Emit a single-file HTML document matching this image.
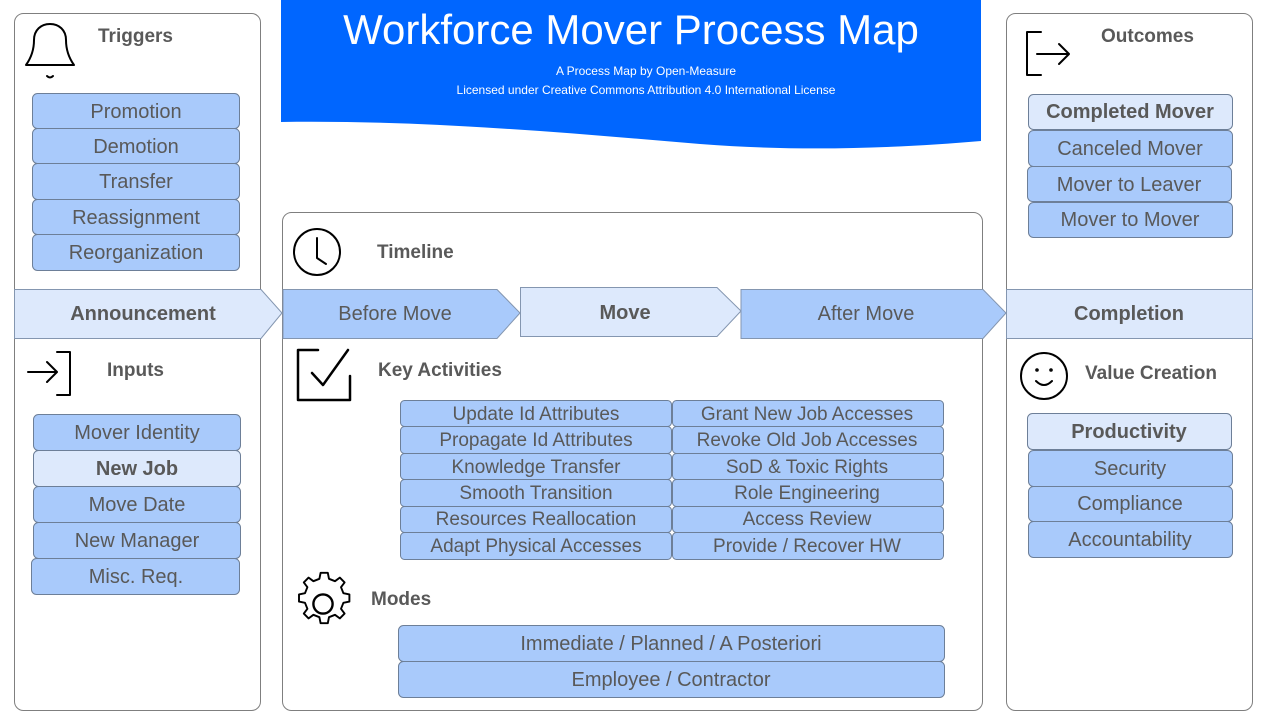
<!DOCTYPE html>
<html><head><meta charset="utf-8"><style>
body{margin:0;width:1280px;height:720px;background:#fff;overflow:hidden;font-family:"Liberation Sans",sans-serif}
svg text{font-family:"Liberation Sans",sans-serif}
</style></head><body>
<svg width="1280" height="720" viewBox="0 0 1280 720" xmlns="http://www.w3.org/2000/svg">
<path d="M281 0 H981 V141 C900 148 800 152 700 144 C560 132 420 120 281 122 Z" fill="#0066ff"/>
<text x="631" y="44" text-anchor="middle" fill="#fff" font-size="42">Workforce Mover Process Map</text>
<text x="646" y="75" text-anchor="middle" fill="#fff" font-size="12">A Process Map by Open-Measure</text>
<text x="646" y="94" text-anchor="middle" fill="#fff" font-size="12">Licensed under Creative Commons Attribution 4.0 International License</text>

<g fill="#fff" stroke="#7f7f7f" stroke-width="1">
<rect x="14.5" y="13.5" width="246" height="697" rx="9"/>
<rect x="282.5" y="212.5" width="700" height="498" rx="9"/>
<rect x="1006.5" y="13.5" width="246" height="697" rx="9"/>
</g>

<g stroke="#8496b0" stroke-width="1">
<path d="M14.5 289.5 H261 L282 313 L261 338.5 H14.5 Z" fill="#dde9fc"/>
<path d="M283 289.5 H497 L520 313 L497 338.5 H283 Z" fill="#a9cafb"/>
<path d="M520.5 287.5 H717 L741 311 L717 336.5 H520.5 Z" fill="#dde9fc"/>
<path d="M741 289.5 H983 L1006 313 L983 338.5 H741 Z" fill="#a9cafb"/>
<rect x="1006.5" y="289.5" width="246" height="49" fill="#dde9fc"/>
</g>
<g font-size="20" text-anchor="middle" fill="#595959">
<text x="143" y="320" font-weight="bold">Announcement</text>
<text x="395" y="320">Before Move</text>
<text x="625" y="319" font-weight="bold">Move</text>
<text x="866" y="320">After Move</text>
<text x="1129" y="320" font-weight="bold">Completion</text>
</g>

<g font-size="19" font-weight="bold" fill="#595959">
<text x="98" y="42">Triggers</text>
<text x="107" y="376">Inputs</text>
<text x="377" y="258">Timeline</text>
<text x="378" y="376">Key Activities</text>
<text x="371" y="605">Modes</text>
<text x="1101" y="42">Outcomes</text>
<text x="1085" y="379">Value Creation</text>
</g>

<g fill="none" stroke="#000" stroke-width="2" stroke-linecap="round" stroke-linejoin="round">
<path d="M26 65 C31 58 34 50 34 40 C34 30 41 24 50 24 C59 24 66 30 66 40 C66 50 69 58 74 65 Z"/>
<path d="M47 76 Q50 79 53 76"/>
<circle cx="317" cy="252" r="23"/>
<path d="M317 238 V258 L326 264"/>
<path d="M318 350 H298 V400 H350 V376 M312 373 L323 385 L348 350" stroke-width="2.5"/>
<path d="M1041 32 H1027 V75 H1041 M1037 54 H1069 M1059 44 L1069 54 L1059 64"/>
<path d="M57 352 H70 V395 H57 M28 372 H57 M47 362 L57 372 L47 382"/>
<circle cx="1044" cy="376" r="23"/>
<circle cx="1037" cy="370" r="0.8"/><circle cx="1051" cy="370" r="0.8"/>
<path d="M1036 381 Q1044 389 1052 381"/>
<g transform="translate(323 604) scale(1.2) translate(-323 -604)">
<circle cx="323" cy="604" r="8"/>
<path d="M323 578 l4 0 l1 5 l5 2 l4 -3 l4 4 l-3 4 l2 5 l5 1 v6 l-5 1 l-2 5 l3 4 l-4 4 l-4 -3 l-5 2 l-1 5 h-6 l-1 -5 l-5 -2 l-4 3 l-4 -4 l3 -4 l-2 -5 l-5 -1 v-6 l5 -1 l2 -5 l-3 -4 l4 -4 l4 3 l5 -2 l1 -5 z" stroke-width="1.6"/>
</g>
</g>

<g stroke="#6d7f98" stroke-width="1">
<g fill="#a9cafb">
<rect x="32.5" y="93.5" width="207" height="35" rx="5"/>
<rect x="32.5" y="128.5" width="207" height="35" rx="5"/>
<rect x="32.5" y="163.5" width="207" height="36" rx="5"/>
<rect x="32.5" y="199.5" width="207" height="35" rx="5"/>
<rect x="32.5" y="234.5" width="207" height="36" rx="5"/>
<rect x="33.5" y="414.5" width="207" height="36" rx="5"/>
<rect x="33.5" y="486.5" width="207" height="36" rx="5"/>
<rect x="33.5" y="522.5" width="207" height="36" rx="5"/>
<rect x="31.5" y="558.5" width="208" height="36" rx="5"/>
<rect x="1028.5" y="130.5" width="204" height="36" rx="5"/>
<rect x="1027.5" y="166.5" width="204" height="35" rx="5"/>
<rect x="1028.5" y="202.5" width="204" height="35" rx="5"/>
<rect x="1028.5" y="450.5" width="204" height="36" rx="5"/>
<rect x="1028.5" y="486.5" width="204" height="35" rx="5"/>
<rect x="1028.5" y="521.5" width="204" height="36" rx="5"/>
<rect x="400.5" y="400.5" width="271" height="26" rx="4"/>
<rect x="400.5" y="426.5" width="271" height="27" rx="4"/>
<rect x="400.5" y="453.5" width="271" height="26" rx="4"/>
<rect x="400.5" y="479.5" width="271" height="27" rx="4"/>
<rect x="400.5" y="506.5" width="271" height="26" rx="4"/>
<rect x="400.5" y="532.5" width="271" height="27" rx="4"/>
<rect x="672.5" y="400.5" width="271" height="26" rx="4"/>
<rect x="672.5" y="426.5" width="271" height="27" rx="4"/>
<rect x="672.5" y="453.5" width="271" height="26" rx="4"/>
<rect x="672.5" y="479.5" width="271" height="27" rx="4"/>
<rect x="672.5" y="506.5" width="271" height="26" rx="4"/>
<rect x="672.5" y="532.5" width="271" height="27" rx="4"/>
<rect x="398.5" y="625.5" width="546" height="36" rx="5"/>
<rect x="398.5" y="661.5" width="546" height="36" rx="5"/>
</g>
<g fill="#dde9fc">
<rect x="33.5" y="450.5" width="207" height="36" rx="5"/>
<rect x="1028.5" y="94.5" width="204" height="35" rx="5"/>
<rect x="1027.5" y="413.5" width="204" height="36" rx="5"/>
</g>
</g>

<g font-size="20" text-anchor="middle" fill="#595959">
<text x="136" y="118">Promotion</text>
<text x="136" y="153">Demotion</text>
<text x="136" y="188">Transfer</text>
<text x="136" y="224">Reassignment</text>
<text x="136" y="259">Reorganization</text>
<text x="137" y="439">Mover Identity</text>
<text x="137" y="475" font-weight="bold">New Job</text>
<text x="137" y="511">Move Date</text>
<text x="137" y="547">New Manager</text>
<text x="136" y="583">Misc. Req.</text>
<text x="1130" y="118" font-weight="bold">Completed Mover</text>
<text x="1130" y="155">Canceled Mover</text>
<text x="1129" y="191">Mover to Leaver</text>
<text x="1130" y="226">Mover to Mover</text>
<text x="1129" y="438" font-weight="bold">Productivity</text>
<text x="1130" y="475">Security</text>
<text x="1130" y="510">Compliance</text>
<text x="1130" y="546">Accountability</text>
<g font-size="19">
<text x="536" y="420">Update Id Attributes</text>
<text x="536" y="446">Propagate Id Attributes</text>
<text x="536" y="473">Knowledge Transfer</text>
<text x="536" y="499">Smooth Transition</text>
<text x="536" y="525">Resources Reallocation</text>
<text x="536" y="552">Adapt Physical Accesses</text>
<text x="807" y="420">Grant New Job Accesses</text>
<text x="807" y="446">Revoke Old Job Accesses</text>
<text x="807" y="473">SoD &amp; Toxic Rights</text>
<text x="807" y="499">Role Engineering</text>
<text x="807" y="525">Access Review</text>
<text x="807" y="552">Provide / Recover HW</text>
</g>
<text x="671" y="650">Immediate / Planned / A Posteriori</text>
<text x="671" y="686">Employee / Contractor</text>
</g>
</svg>
</body></html>
